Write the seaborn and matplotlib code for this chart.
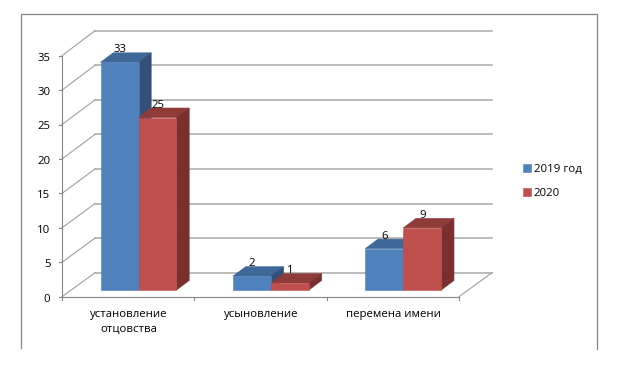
import pandas as pd
import seaborn as sns
import matplotlib.pyplot as plt
from matplotlib.patches import Polygon

categories = ['установление\nотцовства', 'усыновление', 'перемена имени']
values_2019 = [33, 2, 6]
values_2020 = [25, 1, 9]
series_names = ['2019 год', '2020']
y_ticks = [0, 5, 10, 15, 20, 25, 30, 35]

plt.rcParams['font.family'] = 'Open Sans'
plt.rcParams['font.size'] = 8.2

W, H = 618, 380
# pixels per category / per unit, used to turn the fake 3D depth into data units
px_x = 132.4
px_y = 6.9

df = pd.DataFrame({
    'category': categories * 2,
    'value': values_2019 + values_2020,
    'series': [series_names[0]] * 3 + [series_names[1]] * 3,
})

fig = plt.figure(figsize=(W / 100, H / 100), dpi=100)
ax = fig.add_axes([0, 0, 1, 1])
sns.barplot(data=df, x='category', y='value', hue='series', hue_order=series_names,
            palette=['#4F81BD', '#C0504D'], width=0.574, gap=0, saturation=1,
            linewidth=0, ax=ax, legend=False, errorbar=None)

ax.set_xlim(-138.5 / px_x, (W - 138.5) / px_x)
ax.set_ylim(-(H - 290) / px_y, 290 / px_y)
ax.axis('off')


def X(px):
    return (px - 138.5) / px_x


def Y(px):
    return (290 - px) / px_y


# outer frame (no bottom edge in the picture)
frame = '#868686'
ax.plot([X(20.5), X(20.5), X(596.5), X(596.5)], [Y(348), Y(13.5), Y(13.5), Y(349)],
        color=frame, lw=0.9, zorder=1)

# walls and floor
for v in y_ticks:
    front = Y(296.7) + v * 241 / 35 / px_y
    back = Y(272.7) + v * 242 / 35 / px_y
    ax.plot([X(95), X(492)], [back, back], color='#a8a8a8', lw=1.1, zorder=1)
    ax.plot([X(62), X(95)], [front, back], color='#a0a0a0', lw=0.8, zorder=1)
    ax.plot([X(59), X(62)], [front, front], color=frame, lw=0.8, zorder=1)
    ax.text(X(50.5), front - 0.35, str(v), ha='right', va='center', color='black')
ax.plot([X(62), X(62)], [Y(296.7), Y(55.7)], color=frame, lw=0.8, zorder=1)
ax.plot([X(62), X(459)], [Y(296.7), Y(296.7)], color=frame, lw=0.8, zorder=1)
ax.plot([X(459), X(492)], [Y(296.7), Y(272.7)], color='#a0a0a0', lw=0.8, zorder=1)
for px in [62, 194.3, 326.7, 459]:
    ax.plot([X(px), X(px)], [Y(296.7), Y(300)], color=frame, lw=0.8, zorder=1)

# depth of the bars
dx = 12.7 / px_x
dy = 9.5 / px_y
top_colors = ['#3F6797', '#8F3B39']
side_colors = ['#335078', '#7A302F']
for i, cont in enumerate(ax.containers):
    z = 3 + i
    for bar in cont:
        x0 = bar.get_x()
        x1 = x0 + bar.get_width()
        h = bar.get_height()
        bar.set_zorder(z + 0.5)
        bar.set_edgecolor(bar.get_facecolor())
        bar.set_linewidth(0.4)
        ax.add_patch(Polygon([(x0, h), (x1, h), (x1 + dx, h + dy), (x0 + dx, h + dy)],
                             closed=True, fc=top_colors[i], ec=top_colors[i], lw=0.4, zorder=z))
        ax.add_patch(Polygon([(x1, 0), (x1 + dx, dy), (x1 + dx, h + dy), (x1, h)],
                             closed=True, fc=side_colors[i], ec=side_colors[i], lw=0.4, zorder=z))
        ax.text((x0 + x1) / 2, h + 12.5 / px_y, str(h if h % 1 else int(h)),
                ha='center', va='center', color='black', zorder=6)

# category labels
for i, c in enumerate(categories):
    ax.text(i - 10 / px_x, Y(308.5), c, ha='center', va='top', color='black',
            linespacing=1.55)

# legend
handles = [c[0] for c in ax.containers]
ax.legend(handles, series_names, loc='upper left', bbox_to_anchor=(521 / W, 1 - 162 / H),
          frameon=False, handlelength=0.72, handleheight=0.72, handletextpad=0.2,
          labelspacing=1.1, borderpad=0.2, borderaxespad=0, fontsize=8.2)

plt.savefig('out.png', dpi=100)
